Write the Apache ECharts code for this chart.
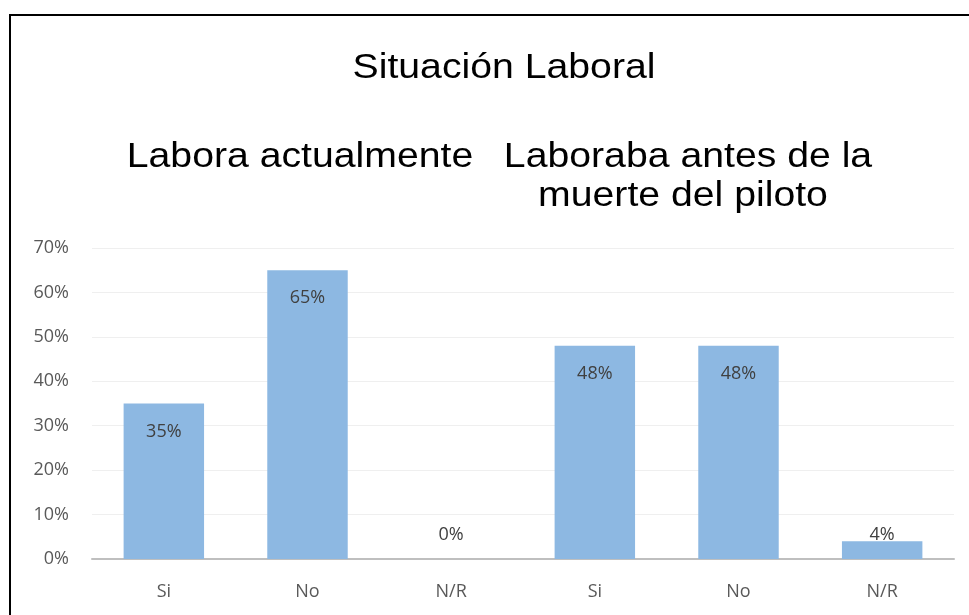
<!DOCTYPE html>
<html>
<head>
<meta charset="utf-8">
<script src="https://cdn.jsdelivr.net/npm/echarts@6/dist/echarts.min.js"></script>
<style>
  html, body { margin: 0; padding: 0; background: #fff; }
  #chart { width: 969px; height: 615px; }
</style>
</head>
<body>
<div id="chart"></div>
<script>
// datos
const categories = ['Si', 'No', 'N/R', 'Si', 'No', 'N/R']
const values = [35, 65, 0, 48, 48, 4]
const yTicks = [0, 10, 20, 30, 40, 50, 60, 70]

const chart = echarts.init(document.getElementById('chart'))

const labelFont = '"Open Sans", sans-serif'
const titleFont = '35px "Liberation Sans", Arial, sans-serif'

// texto de titulos un poco ensanchado, como en el original
function titleText(text, x, y) {
  return {
    type: 'text',
    x: x,
    y: y,
    scaleX: 1.12,
    silent: true,
    style: {
      text: text,
      font: titleFont,
      fill: '#000',
      align: 'center',
      verticalAlign: 'middle'
    }
  }
}

const seriesData = values.map(function (v) {
  // barras cortas: etiqueta encima
  if (v < 10) {
    return {
      value: v,
      label: { position: 'top', distance: v === 0 ? 15 : -3 }
    }
  }
  return v
})

const options = {
  animation: false,
  backgroundColor: '#fff',
  graphic: [
    {
      type: 'rect',
      shape: { x: 10, y: 15, width: 1000, height: 700 },
      style: { fill: 'none', stroke: '#000', lineWidth: 2 },
      silent: true
    },
    titleText('Situación Laboral', 504, 68),
    titleText('Labora actualmente', 300, 157),
    titleText('Laboraba antes de la', 688, 157),
    titleText('muerte del piloto', 683, 196)
  ],
  grid: {
    left: 92,
    right: 15,
    top: 248,
    bottom: 56
  },
  xAxis: {
    type: 'category',
    data: categories,
    axisTick: { show: false },
    axisLine: { lineStyle: { color: '#bfbfbf', width: 2 } },
    axisLabel: { color: '#595959', fontSize: 18, fontFamily: labelFont, margin: 24 }
  },
  yAxis: {
    type: 'value',
    min: yTicks[0],
    max: yTicks[yTicks.length - 1],
    interval: 10,
    axisLine: { show: false },
    axisTick: { show: false },
    axisLabel: {
      color: '#595959',
      fontSize: 18,
      fontFamily: labelFont,
      margin: 23,
      formatter: '{value}%'
    },
    splitLine: { lineStyle: { color: '#efefef', width: 1 } }
  },
  series: [{
    name: 'valor',
    type: 'bar',
    data: seriesData,
    barCategoryGap: '44%',
    itemStyle: { color: '#8db8e2' },
    label: {
      show: true,
      position: 'insideTop',
      distance: 19,
      color: '#404040',
      fontSize: 18,
      fontFamily: labelFont,
      formatter: '{c}%'
    }
  }]
}

chart.setOption(options)
</script>
</body>
</html>
